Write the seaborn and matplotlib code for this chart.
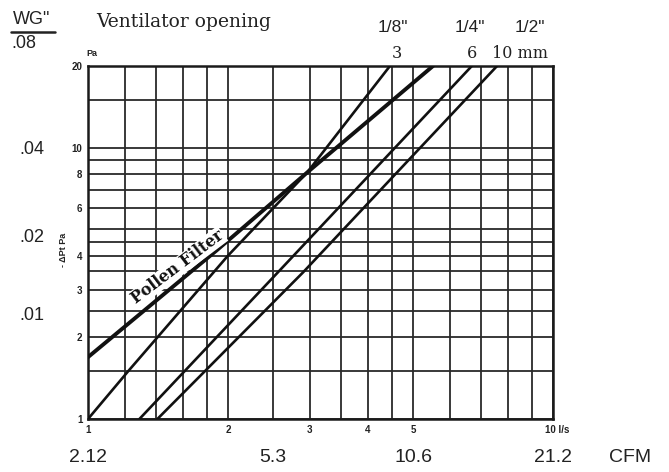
import matplotlib
matplotlib.use("Agg")
import matplotlib.pyplot as plt
from matplotlib.lines import Line2D
from matplotlib.ticker import FixedLocator, FixedFormatter, NullLocator
import pandas as pd
import seaborn as sns

# caudal (l/s) y caida de presion (Pa)
pollen_q = [1.0, 1.89, 2.96, 5.52]
pollen_dp = [1.69, 4.18, 8.1, 20.0]
open3_q = [1.0, 1.22, 2.0, 2.96, 4.46]      # 1/8" = 3 mm
open3_dp = [1.0, 1.5, 4.0, 8.1, 20.0]
open6_q = [1.29, 2.56, 6.69]                # 1/4" = 6 mm
open6_dp = [1.0, 3.47, 20.0]
open10_q = [1.41, 2.90, 7.58]               # 1/2" = 10 mm
open10_dp = [1.0, 3.47, 20.0]

# rejilla y etiquetas
grid_x = [1, 1.2, 1.4, 1.6, 1.8, 2, 2.5, 3, 3.5, 4, 4.5, 5, 6, 7, 8, 9, 10]
grid_y = [1, 1.5, 2, 2.5, 3, 3.5, 4, 4.5, 5, 6, 7, 8, 9, 10, 15, 20]
x_labels = {1: "1", 2: "2", 3: "3", 4: "4", 5: "5"}
y_labels = {1: "1", 2: "2", 3: "3", 4: "4", 6: "6", 8: "8", 10: "10", 20: "20"}
cfm_q = [1, 2.5, 5, 10]
cfm_labels = ["2.12", "5.3", "10.6", "21.2"]
wg_labels = [".04", ".02", ".01"]
inch_labels = ['1/8"', '1/4"', '1/2"']
mm_labels = ["3", "6", "10 mm"]

W, H = 669, 472


def px(x, y):
    # pixeles de la imagen -> fraccion de figura
    return x / W, 1 - y / H


sns.set_style("white")
plt.rcParams["font.family"] = ["Liberation Sans", "DejaVu Sans"]

fig = plt.figure(figsize=(W / 100, H / 100), dpi=100)
ax = fig.add_axes([88 / W, 1 - 419 / H, (553 - 88) / W, (419 - 66) / H])

series = [
    (pollen_q, pollen_dp, 2.8),
    (open3_q, open3_dp, 1.9),
    (open6_q, open6_dp, 1.9),
    (open10_q, open10_dp, 1.9),
]
for q, dp, lw in series:
    df = pd.DataFrame({"q": q, "dp": dp})
    sns.lineplot(data=df, x="q", y="dp", ax=ax, color="#111111",
                 linewidth=lw, estimator=None, sort=False, zorder=3)

ax.set_xscale("log")
ax.set_yscale("log")
ax.set_xlim(1, 10)
ax.set_ylim(1, 20)
ax.set_xlabel("")
ax.set_ylabel("")

ax.xaxis.set_major_locator(FixedLocator(grid_x))
ax.xaxis.set_major_formatter(FixedFormatter([x_labels.get(v, "") for v in grid_x]))
ax.yaxis.set_major_locator(FixedLocator(grid_y))
ax.yaxis.set_major_formatter(FixedFormatter([y_labels.get(v, "") for v in grid_y]))
ax.xaxis.set_minor_locator(NullLocator())
ax.yaxis.set_minor_locator(NullLocator())
ax.tick_params(length=0, labelsize=7, pad=4, colors="#222222")
for lbl in ax.get_xticklabels() + ax.get_yticklabels():
    lbl.set_fontweight("bold")
ax.grid(True, color="#2a2a2a", linewidth=1.3)
for s in ax.spines.values():
    s.set_color("#1a1a1a")
    s.set_linewidth(1.8)

ax.annotate("10 l/s", xy=(10, 1), xycoords="data", xytext=(-6, -4.5),
            textcoords="offset points", ha="left", va="top", fontsize=7,
            fontweight="bold", color="#222222")

# texto sobre la linea del filtro
ax.text(*px(178, 267), "Pollen Filter", transform=fig.transFigure,
        rotation=37, ha="center", va="center", family="DejaVu Serif",
        fontweight="bold", fontsize=11.5, color="#111111", zorder=4,
        bbox=dict(facecolor="white", edgecolor="none", pad=0.5))

# eje izquierdo en pulgadas de agua
fig.text(*px(13, 19), 'WG"', fontsize=13, va="center", ha="left", color="#222222")
fig.add_artist(Line2D([11 / W, 55 / W], [1 - 32 / H, 1 - 32 / H],
                      color="#222222", linewidth=1.8))
fig.text(*px(11, 44), ".08", fontsize=13, va="center", ha="left", color="#222222")
for lab, y in zip(wg_labels, [150, 238, 315]):
    fig.text(*px(19, y), lab, fontsize=13, va="center", ha="left", color="#222222")

fig.text(*px(92, 53), "Pa", fontsize=6.5, va="center", ha="center",
         fontweight="bold", color="#222222")
fig.text(*px(64, 250), "- ΔPt Pa", fontsize=6.5, rotation=90, va="center",
         ha="center", fontweight="bold", color="#222222")

# abertura del ventilador
fig.text(*px(96, 22), "Ventilator opening", family="DejaVu Serif", fontsize=13.5,
         va="center", ha="left", color="#222222")
for lab, x in zip(inch_labels, [393, 470, 530]):
    fig.text(*px(x, 27), lab, fontsize=12.5, va="center", ha="center", color="#222222")
for lab, x in zip(mm_labels, [397, 472, 520]):
    fig.text(*px(x, 53), lab, family="DejaVu Serif", fontsize=11.5,
             va="center", ha="center", color="#222222")

# eje inferior en CFM
for lab, q in zip(cfm_labels, cfm_q):
    ax.annotate(lab, xy=(q, 1), xycoords="data", xytext=(0, -28),
                textcoords="offset points", ha="center", va="center",
                fontsize=14, color="#222222")
fig.text(*px(630, 457), "CFM", fontsize=14, va="center", ha="center", color="#222222")

fig.savefig("out.png", dpi=100, facecolor="white")
